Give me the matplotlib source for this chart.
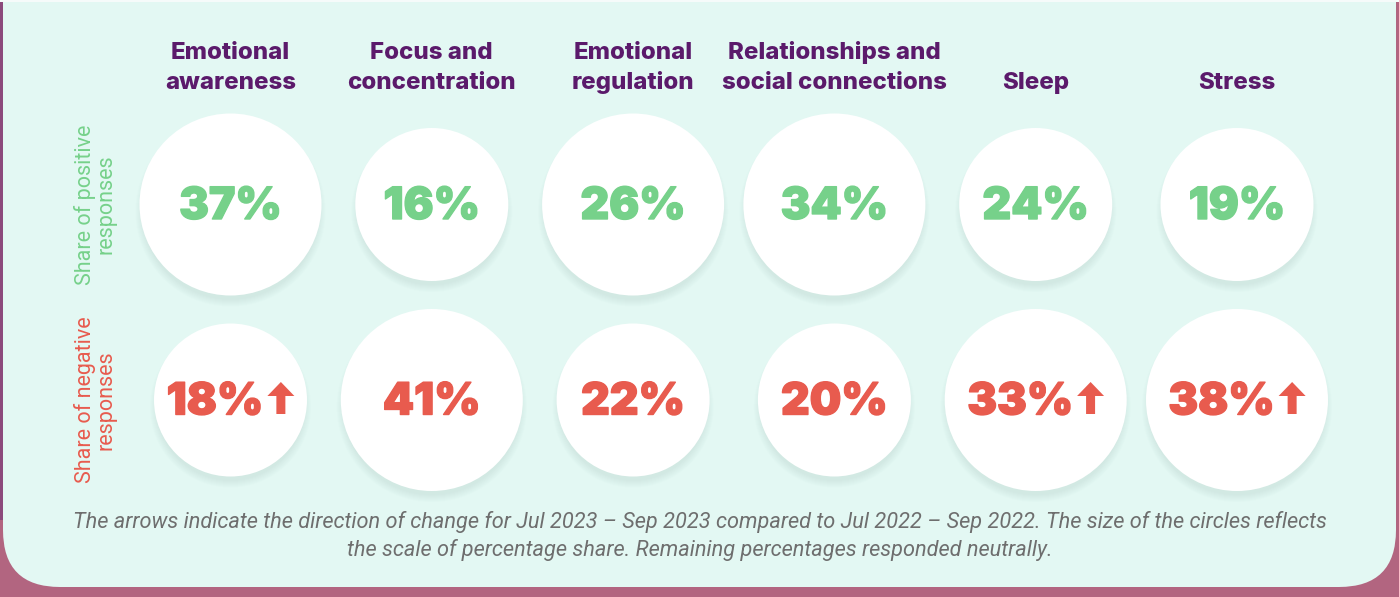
import numpy as np
import matplotlib.pyplot as plt
import matplotlib.patheffects as pe
from matplotlib.patches import Circle, FancyBboxPatch, Polygon, Rectangle

# data
categories = ["Emotional\nawareness", "Focus and\nconcentration", "Emotional\nregulation",
              "Relationships and\nsocial connections", "Sleep", "Stress"]
positive = [37, 16, 26, 34, 24, 19]
negative = [18, 41, 22, 20, 33, 38]
positive_up = [False, False, False, False, False, False]
negative_up = [True, False, False, False, True, True]
row_labels = ["Share of positive\nresponses", "Share of negative\nresponses"]
note = ("The arrows indicate the direction of change for Jul 2023 \u2013 Sep 2023 compared to "
        "Jul 2022 \u2013 Sep 2022. The size of the circles reflects\n"
        "the scale of percentage share. Remaining percentages responded neutrally.")

# style
W, H = 1399, 597
PANEL = '#e3f8f3'
PURPLE = '#5b1a6b'
GREEN = '#76d18a'
RED = '#e85b4e'
GREY = '#6e6e6e'
SHADOW = '#a9cfc6'
HEAD_FONT = ['Inter', 'Lato', 'DejaVu Sans']
NUM_FONT = ['Inter', 'DejaVu Sans']


def radius(v):
    # circles come in two sizes in the original
    return 91 if v >= 25 else 76.5


fig = plt.figure(figsize=(W / 100, H / 100), dpi=100)
fig.patch.set_facecolor('#b26580')
ax = fig.add_axes([0, 0, 1, 1])
ax.set_xlim(0, W)
ax.set_ylim(H, 0)
ax.axis('off')

ax.add_patch(Rectangle((0, 0), 3, 520, fc='#8c4a7c', ec='none'))
ax.add_patch(FancyBboxPatch((3, -100), 1393, 687, boxstyle="round,pad=0,rounding_size=57",
                            fc=PANEL, ec='none'))
ax.add_patch(Rectangle((0, 0), W, 2, fc='#f6fbfa', ec='none'))

col_x = 230.5 + 201.3 * np.arange(len(categories))
row_y = [204.5, 400]

# headers
for x, cat in zip(col_x, categories):
    lines = cat.split('\n')
    base = [89] if len(lines) == 1 else [59, 89]
    for ln, by in zip(lines, base):
        ax.text(x, by, ln, ha='center', va='baseline', color=PURPLE, fontsize=17.3,
                fontweight='heavy', family=HEAD_FONT)

# row labels
for y, lab, c in zip(row_y, row_labels, [GREEN, RED]):
    ax.text(95, y, lab, rotation=90, ha='center', va='center', multialignment='center',
            color=c, fontsize=15.5, family=['Roboto', 'DejaVu Sans'], linespacing=1.0)

fig.canvas.draw()
renderer = fig.canvas.get_renderer()

for y, vals, ups, c in zip(row_y, [positive, negative], [positive_up, negative_up], [GREEN, RED]):
    for x, v, up in zip(col_x, vals, ups):
        r = radius(v)
        # soft shadow, mostly below the circle
        for k in range(8):
            ax.add_patch(Circle((x, y + 7), r + 4 - k, fc=SHADOW, ec='none', alpha=0.035))
        ax.add_patch(Circle((x, y), r, fc='white', ec='none'))
        t = ax.text(0, y - 2, f"{v}%", ha='left', va='center_baseline', color=c, fontsize=32,
                    fontweight='black', family=NUM_FONT,
                    path_effects=[pe.withStroke(linewidth=1.0, foreground=c)])
        w = t.get_window_extent(renderer).width
        gap, aw, ah = 4, 27, 32
        total = w + (gap + aw if up else 0)
        x0 = x - total / 2
        t.set_x(x0)
        if up:
            bx = x0 + w + gap + aw / 2
            by = y + 14
            sw, hh = 9, 14
            pts = [(bx - sw / 2, by), (bx - sw / 2, by - ah + hh), (bx - aw / 2, by - ah + hh),
                   (bx, by - ah), (bx + aw / 2, by - ah + hh), (bx + sw / 2, by - ah + hh),
                   (bx + sw / 2, by)]
            ax.add_patch(Polygon(pts, closed=True, fc=c, ec='none'))

ax.text(W / 2, 536, note, ha='center', va='center', color=GREY, fontsize=15.7,
        style='italic', fontweight='normal', family=['Roboto', 'DejaVu Sans'], linespacing=1.35)

fig.savefig('out.png', dpi=100, facecolor=fig.get_facecolor())
